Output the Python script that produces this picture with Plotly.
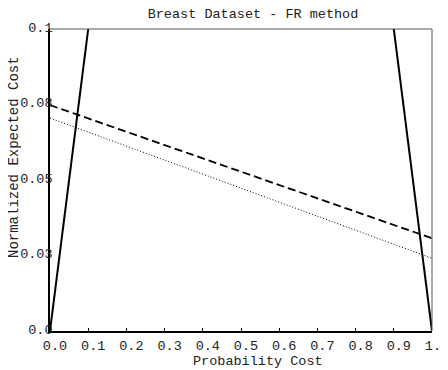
import plotly.graph_objects as go

# Data
x_vals = [0.0, 1.0]
trivial_pos = [0.0, 1.0]      # y = x
trivial_neg = [1.0, 0.0]      # y = 1 - x
fr_dashed = [0.0748, 0.0307]
fr_dotted = [0.0705, 0.0241]

x_ticks = [0.0, 0.1, 0.2, 0.3, 0.4, 0.5, 0.6, 0.7, 0.8, 0.9, 1.0]
x_ticktext = ["0.0", "0.1", "0.2", "0.3", "0.4", "0.5", "0.6", "0.7", "0.8", "0.9", "1.0"]
y_ticks = [0.0, 0.025, 0.05, 0.075, 0.1]
y_ticktext = ["0.0", "0.03", "0.05", "0.08", "0.1"]

FONT = "Liberation Mono, Courier New, monospace"
FS = 13.5
TXT = "#222"

W, H = 440, 362  # page body adds an 8px offset

fig = go.Figure()
fig.add_trace(go.Scatter(x=x_vals, y=trivial_pos, mode="lines",
                         line=dict(color="black", width=2), showlegend=False))
fig.add_trace(go.Scatter(x=x_vals, y=trivial_neg, mode="lines",
                         line=dict(color="black", width=2), showlegend=False))
fig.add_trace(go.Scatter(x=x_vals, y=fr_dashed, mode="lines",
                         line=dict(color="black", width=1.8, dash="8px,4px"), showlegend=False))
fig.add_trace(go.Scatter(x=x_vals, y=fr_dotted, mode="lines",
                         line=dict(color="black", width=1, dash="1px,2px"), showlegend=False))

fig.update_layout(
    width=W, height=H,
    margin=dict(l=42, r=16, t=21, b=39),
    paper_bgcolor="white", plot_bgcolor="white",
    font=dict(family=FONT, size=FS, color=TXT),
    title=dict(text="Breast Dataset - FR method", x=245 / W, xanchor="center",
               y=1 - 5 / H, yanchor="middle", font=dict(family=FONT, size=FS, color=TXT)),
    xaxis=dict(range=[0, 1], tickvals=x_ticks, ticktext=x_ticktext, automargin=False,
               ticks="inside", ticklen=3, tickcolor="black", tickwidth=1,
               showgrid=False, zeroline=False, showline=True, linecolor="black", linewidth=2,
               ticklabelshift=5, ticklabelstandoff=1, ticklabeloverflow="allow",
               tickfont=dict(family=FONT, size=FS, color=TXT)),
    yaxis=dict(range=[0, 0.1], tickvals=y_ticks, ticktext=y_ticktext, automargin=False,
               ticks="", showgrid=False, zeroline=False, showline=True,
               linecolor="black", linewidth=1.5,
               ticklabelstandoff=-7, ticklabelshift=-2, ticklabeloverflow="allow",
               tickfont=dict(family=FONT, size=FS, color=TXT)),
    annotations=[
        dict(text="Probability Cost", xref="paper", yref="paper",
             x=(257.5 - 50) / 382, y=-(361 - 331) / 302,
             xanchor="center", yanchor="middle", showarrow=False,
             font=dict(family=FONT, size=FS, color=TXT)),
        dict(text="Normalized Expected Cost", xref="paper", yref="paper",
             x=-(50 - 14) / 382, y=(331 - 157) / 302, textangle=-90,
             xanchor="center", yanchor="middle", showarrow=False,
             font=dict(family=FONT, size=14, color=TXT)),
    ],
    shapes=[
        dict(type="line", xref="paper", yref="paper", x0=0, x1=1, y0=1, y1=1,
             line=dict(color="#555", width=1)),
        dict(type="line", xref="paper", yref="paper", x0=1, x1=1, y0=0, y1=1,
             line=dict(color="#555", width=1)),
    ],
)

fig.write_html("out.html")
